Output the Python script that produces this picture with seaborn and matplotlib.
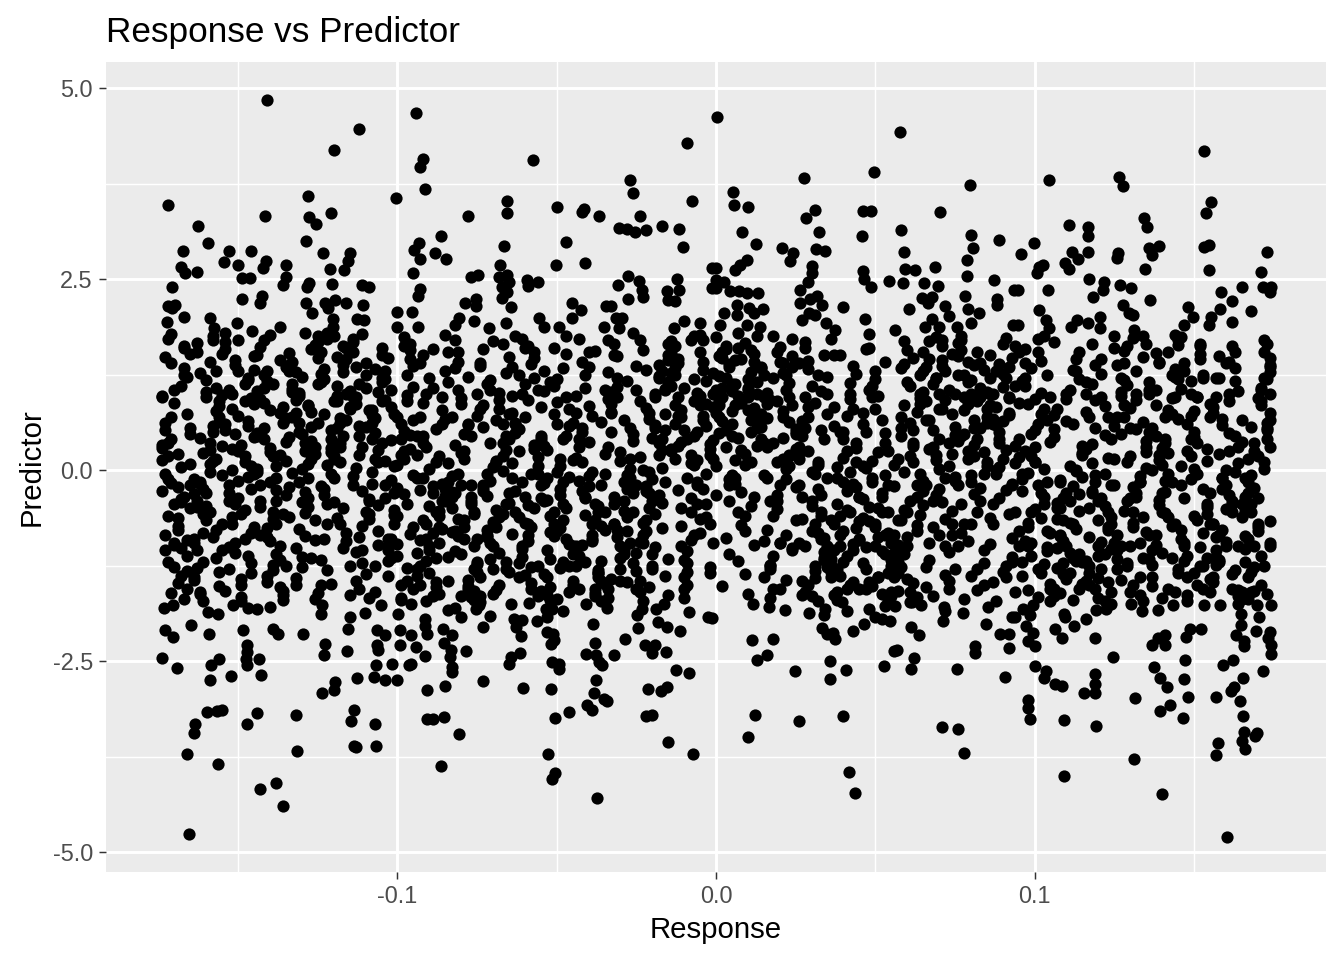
import matplotlib
matplotlib.use("Agg")
import matplotlib.pyplot as plt
import seaborn as sns
import pandas as pd

# ---- data (Response on x, Predictor on y) ----

# sparse upper tail, Predictor above ~1.8
upper_tail = [
    (-0.141, 4.84), (-0.112, 4.46), (-0.120, 4.19), (-0.172, 3.47), (-0.128, 3.59), (-0.1006, 3.56),
    (-0.1415, 3.32), (-0.1277, 3.31), (-0.1255, 3.22), (-0.1208, 3.36), (-0.1626, 3.19), (-0.1286, 3.00),
    (-0.1594, 2.97), (-0.1673, 2.87), (-0.1528, 2.87), (-0.1459, 2.87), (-0.1233, 2.84), (-0.1148, 2.84),
    (-0.1544, 2.72), (-0.150, 2.68), (-0.1412, 2.74), (-0.1421, 2.64), (-0.1349, 2.68), (-0.168, 2.66),
    (-0.1667, 2.58), (-0.1629, 2.59), (-0.1211, 2.63), (-0.1154, 2.74), (-0.1167, 2.62), (-0.1487, 2.51),
    (-0.1462, 2.51), (-0.1349, 2.53), (-0.1358, 2.42), (-0.1277, 2.45), (-0.1283, 2.40), (-0.1204, 2.43),
    (-0.111, 2.42), (-0.1088, 2.40), (-0.1708, 2.40), (-0.172, 2.15), (-0.1698, 2.16), (-0.1708, 2.12),
    (-0.1487, 2.24), (-0.1425, 2.28), (-0.1431, 2.19), (-0.1286, 2.19), (-0.1267, 2.05), (-0.1226, 2.19),
    (-0.1195, 2.22), (-0.1217, 2.12), (-0.116, 2.19), (-0.1107, 2.16), (-0.167, 2.00), (-0.1723, 1.94),
    (-0.1588, 1.99), (-0.1503, 1.92), (-0.1201, 1.98), (-0.1126, 1.98), (-0.1104, 1.96), (-0.1003, 2.07),
    (-0.100, 1.87), (-0.1575, 1.86), (-0.1368, 1.87), (-0.1201, 1.87), (-0.1456, 1.82),
    (-0.0943, 4.67), (-0.0921, 4.07), (-0.0928, 3.97), (-0.0915, 3.68), (-0.0575, 4.06), (-0.0091, 4.28),
    (-0.027, 3.80), (-0.0261, 3.63), (-0.0075, 3.52), (-0.0657, 3.52), (-0.0657, 3.36), (-0.0777, 3.32),
    (-0.050, 3.44), (-0.0415, 3.42), (-0.0421, 3.38), (-0.0368, 3.32), (-0.0239, 3.32), (-0.0305, 3.17),
    (-0.028, 3.15), (-0.0255, 3.12), (-0.022, 3.14), (-0.017, 3.19), (-0.0116, 3.15), (-0.0104, 2.92),
    (-0.0862, 3.06), (-0.0931, 2.97), (-0.0947, 2.88), (-0.0928, 2.76), (-0.0881, 2.84), (-0.0849, 2.76),
    (-0.0667, 2.93), (-0.0472, 2.98), (-0.0503, 2.68), (-0.0412, 2.71), (-0.095, 2.58), (-0.0679, 2.68),
    (-0.077, 2.53), (-0.0748, 2.55), (-0.0682, 2.53), (-0.0657, 2.55), (-0.0651, 2.46), (-0.0673, 2.40),
    (-0.0657, 2.33), (-0.0673, 2.25), (-0.0594, 2.49), (-0.056, 2.46), (-0.0591, 2.41), (-0.0277, 2.54),
    (-0.0308, 2.42), (-0.0242, 2.47), (-0.0233, 2.36), (-0.023, 2.26), (-0.0277, 2.24), (-0.0123, 2.50),
    (-0.0154, 2.34), (-0.0116, 2.36), (-0.0151, 2.22), (-0.0129, 2.21), (-0.0013, 2.64), (-0.0013, 2.38),
    (-0.0928, 2.37), (-0.0934, 2.28), (-0.0953, 2.07), (-0.0789, 2.19), (-0.0752, 2.24), (-0.0752, 2.15),
    (-0.0642, 2.13), (-0.0453, 2.19), (-0.0425, 2.09), (-0.0453, 1.99), (-0.0346, 2.15), (-0.033, 2.15),
    (-0.0557, 1.99), (-0.0808, 1.99), (-0.0761, 1.95), (-0.0818, 1.90), (-0.066, 1.92), (-0.0937, 1.87),
    (-0.0714, 1.86), (-0.0541, 1.87), (-0.0494, 1.87), (-0.0314, 1.99), (-0.0296, 1.99), (-0.0352, 1.87),
    (-0.0305, 1.86), (-0.0101, 1.95), (-0.005, 1.92), (-0.0132, 1.86),
    (0.0003, 4.62), (0.0579, 4.42), (0.0497, 3.90), (0.0277, 3.82), (0.0796, 3.73), (0.0053, 3.64),
    (0.0057, 3.47), (0.0101, 3.44), (0.0311, 3.40), (0.0283, 3.30), (0.0462, 3.39), (0.0487, 3.39),
    (0.0704, 3.38), (0.0082, 3.12), (0.0324, 3.12), (0.0459, 3.06), (0.0582, 3.14), (0.0802, 3.08),
    (0.089, 3.01), (0.0126, 2.96), (0.0208, 2.91), (0.0242, 2.84), (0.0233, 2.74), (0.0314, 2.89),
    (0.0343, 2.87), (0.0591, 2.85), (0.0808, 2.91), (0.0789, 2.75), (0.0, 2.64), (0.0097, 2.75),
    (0.0075, 2.68), (0.006, 2.62), (0.0302, 2.67), (0.0302, 2.58), (0.0289, 2.46), (0.0264, 2.36),
    (0.0462, 2.60), (0.0465, 2.50), (0.0487, 2.40), (0.0594, 2.63), (0.0626, 2.62), (0.0686, 2.66),
    (0.0544, 2.47), (0.0588, 2.45), (0.0654, 2.45), (0.0698, 2.41), (0.0789, 2.54), (0.0874, 2.49),
    (0.0934, 2.36), (0.0, 2.49), (0.0025, 2.46), (0.0, 2.38), (0.0044, 2.34), (0.0072, 2.34),
    (0.0097, 2.32), (0.0132, 2.32), (0.0648, 2.25), (0.0679, 2.26), (0.0664, 2.19), (0.0783, 2.28),
    (0.0881, 2.24), (0.0881, 2.16), (0.0066, 2.16), (0.0025, 2.05), (0.0066, 2.03), (0.0104, 2.12),
    (0.0148, 2.11), (0.012, 2.05), (0.0013, 1.90), (0.0097, 1.90), (0.0138, 1.87), (0.0264, 2.19),
    (0.0296, 2.24), (0.0318, 2.28), (0.0333, 2.16), (0.0292, 2.05), (0.0311, 2.03), (0.027, 1.96),
    (0.0346, 1.92), (0.0399, 2.13), (0.0469, 1.98), (0.0607, 2.11), (0.072, 2.15), (0.0733, 2.02),
    (0.0679, 1.98), (0.0657, 1.87), (0.0701, 1.87), (0.0792, 2.11), (0.0827, 2.05), (0.0799, 1.92),
    (0.0758, 1.87), (0.0931, 1.90), (0.0374, 1.83), (0.0563, 1.83),
    (0.1531, 4.18), (0.1044, 3.80), (0.1264, 3.84), (0.1277, 3.72), (0.1553, 3.51), (0.1538, 3.36),
    (0.1343, 3.30), (0.1352, 3.18), (0.1107, 3.21), (0.1167, 3.18), (0.1167, 3.06), (0.0997, 2.97),
    (0.0959, 2.83), (0.1119, 2.85), (0.1135, 2.76), (0.1167, 2.85), (0.1261, 2.84), (0.1258, 2.77),
    (0.1358, 2.91), (0.139, 2.93), (0.1368, 2.81), (0.1531, 2.92), (0.1547, 2.95), (0.173, 2.85),
    (0.1711, 2.59), (0.1717, 2.40), (0.1742, 2.40), (0.1738, 2.33), (0.1547, 2.62), (0.1346, 2.63),
    (0.1028, 2.68), (0.1013, 2.66), (0.1009, 2.58), (0.1097, 2.71), (0.1107, 2.63), (0.117, 2.50),
    (0.1217, 2.46), (0.1214, 2.36), (0.1182, 2.26), (0.1267, 2.42), (0.1302, 2.38), (0.1362, 2.22),
    (0.1277, 2.16), (0.1296, 2.05), (0.1308, 2.03), (0.0947, 2.36), (0.1041, 2.36), (0.1013, 2.09),
    (0.1035, 1.96), (0.1044, 1.86), (0.1132, 1.96), (0.1113, 1.87), (0.1167, 1.92), (0.1204, 2.00),
    (0.1204, 1.86), (0.0947, 1.90), (0.1481, 2.13), (0.1497, 2.00), (0.1469, 1.90), (0.1553, 2.00),
    (0.1547, 1.90), (0.1585, 2.33), (0.162, 2.21), (0.1582, 2.11), (0.1651, 2.40), (0.1679, 2.08),
    (0.162, 1.94), (0.1311, 1.83),
]

# sparse lower tail, Predictor below ~-1.75
lower_tail = [
    (-0.1733, -1.81), (-0.1704, -1.77), (-0.1594, -1.86), (-0.1563, -1.88), (-0.1516, -1.77), (-0.1469, -1.81),
    (-0.1440, -1.82), (-0.1399, -1.79), (-0.1239, -1.88), (-0.1236, -1.77), (-0.1148, -1.92), (-0.1101, -1.87),
    (-0.1053, -1.77), (-0.0997, -1.88), (-0.173, -2.09), (-0.1704, -2.19), (-0.1648, -2.03), (-0.1591, -2.15),
    (-0.1484, -2.09), (-0.139, -2.08), (-0.1374, -2.15), (-0.1296, -2.15), (-0.1154, -2.08), (-0.1063, -2.09),
    (-0.1038, -2.16), (-0.0991, -2.09), (-0.0991, -2.29), (-0.1226, -2.28), (-0.1230, -2.42), (-0.1157, -2.37),
    (-0.1063, -2.29), (-0.106, -2.36), (-0.1472, -2.29), (-0.1472, -2.38), (-0.1475, -2.47), (-0.1472, -2.55),
    (-0.1739, -2.46), (-0.1692, -2.59), (-0.1585, -2.55), (-0.156, -2.47), (-0.1588, -2.75), (-0.1522, -2.70),
    (-0.1434, -2.47), (-0.1428, -2.68), (-0.1236, -2.92), (-0.1195, -2.77), (-0.1198, -2.88), (-0.1126, -2.72),
    (-0.1075, -2.71), (-0.1038, -2.75), (-0.100, -2.75), (-0.1066, -2.55), (-0.1016, -2.54), (-0.0965, -2.55),
    (-0.1597, -3.17), (-0.1566, -3.15), (-0.155, -3.14), (-0.1635, -3.32), (-0.1638, -3.44), (-0.166, -3.72),
    (-0.1563, -3.85), (-0.1472, -3.32), (-0.144, -3.18), (-0.1318, -3.21), (-0.1314, -3.68), (-0.1135, -3.14),
    (-0.1145, -3.29), (-0.1069, -3.32), (-0.1138, -3.61), (-0.1129, -3.63), (-0.1066, -3.61), (-0.1431, -4.18),
    (-0.1381, -4.10), (-0.1358, -4.40), (-0.1654, -4.76),
    (-0.0956, -1.75), (-0.0956, -2.16), (-0.0943, -2.32), (-0.0956, -2.54), (-0.0915, -2.43), (-0.0912, -1.95),
    (-0.0912, -2.04), (-0.0906, -2.15), (-0.0858, -2.08), (-0.083, -2.16), (-0.0855, -2.26), (-0.0833, -2.36),
    (-0.0836, -2.45), (-0.083, -2.58), (-0.083, -2.64), (-0.0786, -2.37), (-0.084, -1.83), (-0.0818, -1.81),
    (-0.0802, -1.92), (-0.0755, -1.82), (-0.0745, -1.77), (-0.0733, -2.05), (-0.0708, -1.91), (-0.0645, -1.75),
    (-0.0588, -1.74), (-0.0635, -1.95), (-0.061, -1.96), (-0.0629, -2.05), (-0.0613, -2.17), (-0.0563, -1.98),
    (-0.0535, -1.82), (-0.0516, -1.82), (-0.0531, -1.92), (-0.0481, -1.85), (-0.0531, -2.12), (-0.0513, -2.15),
    (-0.0519, -2.28), (-0.0509, -2.23), (-0.0616, -2.40), (-0.0645, -2.45), (-0.0651, -2.54), (-0.0516, -2.51),
    (-0.0494, -2.54), (-0.0494, -2.60), (-0.0733, -2.76), (-0.0852, -2.83), (-0.0906, -2.88), (-0.0607, -2.85),
    (-0.0519, -2.87), (-0.0409, -1.75), (-0.0343, -1.81), (-0.0387, -2.02), (-0.0381, -2.26), (-0.0409, -2.41),
    (-0.0377, -2.42), (-0.0368, -2.51), (-0.0358, -2.55), (-0.0321, -2.42), (-0.0286, -2.21), (-0.0377, -2.75),
    (-0.0384, -2.92), (-0.0352, -3.00), (-0.0343, -3.02), (-0.0406, -3.08), (-0.039, -3.14), (-0.0462, -3.17),
    (-0.0506, -3.25), (-0.0248, -1.90), (-0.0233, -1.82), (-0.0189, -1.82), (-0.0164, -1.75), (-0.0245, -2.07),
    (-0.0182, -1.99), (-0.0154, -2.05), (-0.0113, -2.11), (-0.0085, -1.86), (-0.0025, -1.92), (-0.0223, -2.29),
    (-0.0192, -2.29), (-0.0201, -2.40), (-0.0157, -2.38), (-0.0126, -2.62), (-0.0085, -2.66), (-0.0214, -2.87),
    (-0.0173, -2.89), (-0.0154, -2.84), (-0.022, -3.22), (-0.0201, -3.21), (-0.0151, -3.56), (-0.0072, -3.72),
    (-0.0808, -3.46), (-0.0906, -3.26), (-0.089, -3.26), (-0.0855, -3.23), (-0.0862, -3.87), (-0.0528, -3.72),
    (-0.0506, -3.97), (-0.0516, -4.04), (-0.0374, -4.29),
    (-0.0013, -1.94), (0.0116, -1.75), (0.0167, -1.79), (0.0217, -1.83), (0.0292, -1.87), (0.0343, -1.82),
    (0.034, -1.90), (0.0333, -2.07), (0.0349, -2.15), (0.0374, -2.21), (0.0368, -2.13), (0.0396, -1.73),
    (0.0412, -1.85), (0.0431, -2.11), (0.0465, -2.02), (0.0481, -1.82), (0.05, -1.92), (0.0522, -1.95),
    (0.0547, -1.98), (0.0531, -1.78), (0.0563, -1.78), (0.0613, -2.05), (0.0638, -2.16), (0.0642, -1.77),
    (0.0616, -1.73), (0.056, -2.37), (0.0569, -2.36), (0.0623, -2.46), (0.0613, -2.60), (0.0528, -2.57),
    (0.0717, -1.79), (0.072, -1.85), (0.0714, -1.98), (0.0774, -1.87), (0.0855, -1.79), (0.0849, -2.02),
    (0.0928, -1.92), (0.0893, -2.15), (0.0921, -2.15), (0.0921, -2.33), (0.0814, -2.30), (0.0814, -2.40),
    (0.0758, -2.60), (0.0906, -2.71), (0.0113, -2.23), (0.0179, -2.21), (0.0129, -2.49), (0.016, -2.42),
    (0.0248, -2.63), (0.0358, -2.50), (0.0409, -2.62), (0.0358, -2.74), (0.0123, -3.21), (0.0101, -3.49),
    (0.0261, -3.29), (0.0399, -3.22), (0.0418, -3.95), (0.0437, -4.23), (0.0708, -3.36), (0.0761, -3.39),
    (0.078, -3.70),
    (0.0965, -1.82), (0.0994, -1.77), (0.0987, -1.90), (0.094, -1.92), (0.0972, -2.04), (0.0994, -2.13),
    (0.0978, -2.24), (0.1003, -2.30), (0.1, -2.57), (0.1035, -2.63), (0.1031, -2.72), (0.1063, -2.80),
    (0.1085, -2.83), (0.0981, -3.01), (0.0978, -3.12), (0.0987, -3.26), (0.1094, -3.27), (0.1192, -3.35),
    (0.1091, -4.01), (0.1311, -3.78), (0.1399, -4.24), (0.1604, -4.80), (0.1094, -1.88), (0.1097, -1.92),
    (0.1063, -2.08), (0.1085, -2.20), (0.1123, -2.04), (0.116, -1.95), (0.1192, -1.83), (0.1223, -1.82),
    (0.1239, -1.75), (0.1189, -2.20), (0.1245, -2.45), (0.1189, -2.67), (0.1189, -2.80), (0.1154, -2.92),
    (0.1189, -2.92), (0.1314, -2.98), (0.1302, -1.75), (0.1336, -1.85), (0.1387, -1.83), (0.1434, -1.77),
    (0.1368, -2.29), (0.1387, -2.20), (0.1409, -2.16), (0.1409, -2.29), (0.1374, -2.58), (0.1393, -2.72),
    (0.1415, -2.84), (0.1425, -3.08), (0.1393, -3.15), (0.1465, -3.25), (0.1481, -2.97), (0.1469, -2.74),
    (0.1472, -2.49), (0.1475, -2.19), (0.1487, -2.08), (0.1522, -2.08), (0.1531, -1.77), (0.1582, -1.77),
    (0.1569, -2.97), (0.1591, -2.55), (0.1623, -2.49), (0.1654, -2.72), (0.1616, -2.89), (0.1626, -2.84),
    (0.1645, -3.02), (0.1654, -3.22), (0.1657, -3.43), (0.1651, -3.55), (0.166, -3.65), (0.1692, -3.48),
    (0.1698, -3.44), (0.1575, -3.57), (0.1569, -3.73), (0.1638, -1.75), (0.1648, -1.88), (0.1648, -2.03),
    (0.1632, -2.16), (0.1657, -2.24), (0.1657, -2.30), (0.1698, -1.77), (0.1704, -1.92), (0.1695, -2.11),
    (0.1739, -2.12), (0.1733, -2.20), (0.1742, -2.29), (0.1742, -2.41), (0.1717, -2.63), (0.1742, -1.77),
]

# dense middle band, estimated strip by strip (0.01 wide in Response)
band_x = []
band_y = []

band_x += [-0.172, -0.168, -0.174, -0.166, -0.170, -0.173, -0.167, -0.171, -0.165, -0.169,
           -0.174, -0.170, -0.166, -0.172, -0.168, -0.173, -0.165, -0.171, -0.167, -0.169,
           -0.174, -0.172, -0.166, -0.170, -0.168, -0.173, -0.165, -0.171, -0.167, -0.169,
           -0.174, -0.170, -0.166, -0.172, -0.168, -0.173, -0.165, -0.171, -0.167, -0.169,
           -0.169, -0.173, -0.166, -0.171, -0.165, -0.174, -0.168, -0.172, -0.167, -0.170,
           -0.171, -0.166, -0.174, -0.169, -0.167, -0.172, -0.165, -0.170, -0.173, -0.168]
band_y += [1.71, -0.42, 0.13, -1.12, 0.88, -0.05, 1.34, -1.61, 0.47, -0.73,
           -0.28, 1.05, -0.91, 0.36, -1.38, 0.62, 1.52, -0.17, -1.69, 0.21,
           0.95, -0.60, 1.22, -1.27, 0.04, -0.85, 0.55, 1.78, -0.35, -1.48,
           0.29, -0.98, 0.74, -0.12, 1.10, -1.05, -0.50, 0.41, 1.63, -0.22,
           -0.78, 0.52, -1.55, 1.40, -0.20, 0.97, -1.02, 0.18, 1.60, -0.45,
           0.70, -1.32, 0.33, -0.63, 1.25, -1.20, 0.08, -0.95, 1.48, -0.38]

band_x += [-0.164, -0.160, -0.156, -0.162, -0.158, -0.163, -0.155, -0.161, -0.157, -0.159,
           -0.157, -0.161, -0.155, -0.163, -0.159, -0.164, -0.158, -0.162, -0.156, -0.160,
           -0.160, -0.155, -0.163, -0.158, -0.161, -0.156, -0.164, -0.159, -0.162, -0.157,
           -0.162, -0.158, -0.164, -0.156, -0.160, -0.163, -0.157, -0.161, -0.155, -0.159,
           -0.159, -0.163, -0.156, -0.161, -0.155, -0.164, -0.158, -0.162, -0.157, -0.160,
           -0.161, -0.156, -0.164, -0.159, -0.157, -0.162, -0.155, -0.160, -0.163, -0.158]
band_y += [-0.31, 1.18, -1.52, 0.42, -0.88, 1.66, -0.07, -1.20, 0.77, -0.55,
           0.15, -1.71, 0.98, -0.40, 1.41, -0.95, 0.58, -0.18, -1.33, 1.02,
           -0.66, 0.31, -1.05, 1.76, -0.25, 0.69, -1.44, 0.08, 1.27, -0.79,
           -1.62, 0.50, -0.12, 0.90, -0.47, 1.55, -1.15, 0.22, -0.71, -0.02,
           0.35, -1.28, 0.84, -0.58, 1.52, -0.90, 0.12, -1.60, 1.08, -0.30,
           -0.82, 0.63, -1.40, 0.26, 1.30, -0.15, -1.05, 0.95, -0.48, 1.70]

band_x += [-0.147, -0.151, -0.145, -0.153, -0.149, -0.154, -0.148, -0.152, -0.146, -0.150,
           -0.150, -0.145, -0.153, -0.148, -0.151, -0.146, -0.154, -0.149, -0.152, -0.147,
           -0.152, -0.148, -0.154, -0.146, -0.150, -0.153, -0.147, -0.151, -0.145, -0.149,
           -0.154, -0.150, -0.146, -0.152, -0.148, -0.153, -0.145, -0.151, -0.147, -0.149,
           -0.149, -0.153, -0.146, -0.151, -0.145, -0.154, -0.148, -0.152, -0.147, -0.150,
           -0.151, -0.146, -0.154, -0.149, -0.147, -0.152, -0.145, -0.150, -0.153, -0.148]
band_y += [0.64, -1.08, 1.49, -0.20, 0.33, -1.58, 1.12, -0.61, 0.05, 1.70,
           -0.37, 0.86, -1.29, 0.19, 1.38, -0.83, 0.52, -1.66, 1.00, -0.09,
           0.27, -0.52, 1.58, -1.21, 0.71, -0.30, 1.21, -0.96, 0.43, -1.43,
           1.79, -0.14, 0.94, -0.70, 0.11, -1.01, 1.31, -0.44, 0.58, -1.72,
           -0.58, 1.05, -1.35, 0.47, -0.05, 1.68, -0.90, 0.80, -1.12, 0.25,
           1.44, -0.25, 0.60, -1.50, 1.18, 0.00, -0.75, 1.30, -0.40, 0.90]

band_x += [-0.140, -0.135, -0.143, -0.138, -0.141, -0.136, -0.144, -0.139, -0.142, -0.137,
           -0.142, -0.138, -0.144, -0.136, -0.140, -0.143, -0.137, -0.141, -0.135, -0.139,
           -0.144, -0.140, -0.136, -0.142, -0.138, -0.143, -0.135, -0.141, -0.137, -0.139,
           -0.137, -0.141, -0.135, -0.143, -0.139, -0.144, -0.138, -0.142, -0.136, -0.140,
           -0.139, -0.143, -0.136, -0.141, -0.135, -0.144, -0.138, -0.142, -0.137, -0.140,
           -0.141, -0.136, -0.144, -0.139, -0.137, -0.142, -0.135, -0.140, -0.143, -0.138]
band_y += [-0.93, 0.37, 1.61, -0.26, -1.47, 0.82, 0.01, -0.64, 1.25, -1.18,
           0.55, -0.11, 1.04, -1.70, 0.24, -0.48, 1.44, -0.87, 0.68, -1.31,
           -0.03, 1.77, -0.58, 0.40, -1.10, 0.93, -0.33, 1.16, -1.53, 0.18,
           0.75, -0.76, 1.35, -0.19, -1.24, 0.49, -0.41, 1.08, -1.63, 0.29,
           1.12, -0.40, 0.62, -1.38, 0.12, 1.50, -0.70, 0.88, -1.00, -0.15,
           1.30, -1.58, 0.45, -0.55, 0.20, 1.70, -1.25, 0.78, -0.85, 0.05]

band_x += [-0.132, -0.128, -0.134, -0.126, -0.130, -0.133, -0.127, -0.131, -0.125, -0.129,
           -0.127, -0.131, -0.125, -0.133, -0.129, -0.134, -0.128, -0.132, -0.126, -0.130,
           -0.134, -0.130, -0.126, -0.132, -0.128, -0.133, -0.125, -0.131, -0.127, -0.129,
           -0.130, -0.125, -0.133, -0.128, -0.131, -0.126, -0.134, -0.129, -0.132, -0.127,
           -0.129, -0.133, -0.126, -0.131, -0.125, -0.134, -0.128, -0.132, -0.127, -0.130,
           -0.131, -0.126, -0.134, -0.129, -0.127, -0.132, -0.125, -0.130, -0.133, -0.128]
band_y += [0.92, -0.48, 1.53, 0.21, -1.27, 1.13, 0.57, -0.15, 1.75, -0.86,
           0.38, 1.01, -1.61, 0.70, -0.29, 1.37, 0.08, -1.02, 1.64, 0.47,
           -0.62, 1.22, 0.30, -1.41, 0.84, -0.04, 1.46, -0.77, 0.15, 1.79,
           -1.14, 0.61, 1.06, -0.36, 0.97, -1.69, 0.43, -0.56, 1.28, 0.76,
           0.35, 1.42, -0.92, 0.62, 1.12, -0.22, 0.85, -1.50, 1.58, 0.02,
           0.50, -0.65, 1.30, 0.25, -1.15, 0.75, 1.68, -0.42, 1.02, -0.10]

band_x += [-0.124, -0.120, -0.116, -0.122, -0.118, -0.123, -0.115, -0.121, -0.117, -0.119,
           -0.120, -0.115, -0.123, -0.118, -0.121, -0.116, -0.124, -0.119, -0.122, -0.117,
           -0.117, -0.121, -0.115, -0.123, -0.119, -0.124, -0.118, -0.122, -0.116, -0.120,
           -0.122, -0.118, -0.124, -0.116, -0.120, -0.123, -0.117, -0.121, -0.115, -0.119,
           -0.119, -0.123, -0.116, -0.121, -0.115, -0.124, -0.118, -0.122, -0.117, -0.120,
           -0.121, -0.116, -0.124, -0.119, -0.117, -0.122, -0.115, -0.120, -0.123, -0.118]
band_y += [1.26, 0.18, -0.93, 1.71, 0.62, -0.32, 1.04, -1.49, 0.44, 1.48,
           -0.11, 0.83, 1.19, -0.71, 0.29, 1.60, -1.18, 0.97, 0.06, -0.50,
           1.37, 0.52, -1.64, 0.74, 1.10, -0.21, 0.36, 1.79, -0.83, 0.90,
           -1.31, 0.11, 1.55, 0.66, -0.42, 1.32, -1.02, 0.24, 0.81, -0.63,
           0.90, -0.25, 1.45, 0.40, -1.25, 1.15, 0.68, -0.70, 1.62, 0.15,
           -0.05, 1.00, -1.50, 0.55, 1.28, -0.45, 0.80, 1.75, -0.90, 0.30]

band_x += [-0.107, -0.111, -0.105, -0.113, -0.109, -0.114, -0.108, -0.112, -0.106, -0.110,
           -0.112, -0.108, -0.114, -0.106, -0.110, -0.113, -0.107, -0.111, -0.105, -0.109,
           -0.110, -0.105, -0.113, -0.108, -0.111, -0.106, -0.114, -0.109, -0.112, -0.107,
           -0.114, -0.110, -0.106, -0.112, -0.108, -0.113, -0.105, -0.111, -0.107, -0.109,
           -0.109, -0.113, -0.106, -0.111, -0.105, -0.114, -0.108, -0.112, -0.107, -0.110,
           -0.111, -0.106, -0.114, -0.109, -0.107, -0.112, -0.105, -0.110, -0.113, -0.108]
band_y += [0.48, -1.22, 1.15, 0.03, -0.57, 1.68, 0.79, -1.55, 0.26, 1.40,
           -0.87, 0.61, -0.19, 1.02, -1.36, 0.87, 0.14, -0.73, 1.51, -0.38,
           1.24, 0.35, -1.07, 0.72, 1.78, -0.46, 0.95, -1.68, 0.20, 1.32,
           -0.08, 0.56, -0.98, 1.12, 0.41, -1.45, 1.60, -0.27, 0.68, -0.64,
           -0.40, 1.35, 0.10, -1.05, 0.90, 1.55, -0.18, 0.58, -1.60, 1.08,
           0.30, -0.80, 1.72, 0.78, -1.25, 0.45, 1.20, -0.55, 0.95, -0.02]

band_x += [-0.100, -0.095, -0.103, -0.098, -0.101, -0.096, -0.104, -0.099, -0.102, -0.097,
           -0.104, -0.100, -0.096, -0.102, -0.098, -0.103, -0.095, -0.101, -0.097, -0.099,
           -0.102, -0.098, -0.104, -0.096, -0.100, -0.103, -0.097, -0.101, -0.095, -0.099,
           -0.097, -0.101, -0.095, -0.103, -0.099, -0.104, -0.098, -0.102, -0.096, -0.100,
           -0.099, -0.103, -0.096, -0.101, -0.095, -0.104, -0.098, -0.102, -0.097, -0.100,
           -0.101, -0.096, -0.104, -0.099, -0.097, -0.102, -0.095, -0.100, -0.103, -0.098]
band_y += [-0.24, 1.09, -1.39, 0.51, -0.70, 1.57, 0.12, -1.67, 0.83, -0.45,
           1.30, -0.97, 0.27, -0.13, 1.74, -1.19, 0.66, -0.59, 0.98, -1.51,
           0.39, -0.31, 1.19, -0.84, 0.06, 1.46, -1.28, 0.73, -0.06, -1.70,
           0.90, -0.52, 1.36, -1.04, 0.20, -0.36, 1.63, -0.90, 0.46, -1.13,
           0.60, -0.90, 1.45, -0.30, -1.55, 0.92, 0.25, -1.15, 1.25, -0.60,
           0.05, 1.65, -0.20, 0.40, -1.45, 1.05, -0.75, 0.70, -1.00, 0.15]

band_x += [-0.092, -0.088, -0.094, -0.086, -0.090, -0.093, -0.087, -0.091, -0.085, -0.089,
           -0.094, -0.090, -0.086, -0.092, -0.088, -0.093, -0.085, -0.091, -0.087, -0.089,
           -0.087, -0.091, -0.085, -0.093, -0.089, -0.094, -0.088, -0.092, -0.086, -0.090,
           -0.090, -0.085, -0.093, -0.088, -0.091, -0.086, -0.094, -0.089, -0.092, -0.087,
           -0.089, -0.093, -0.086, -0.091, -0.085, -0.094, -0.088, -0.092, -0.087, -0.090,
           -0.091, -0.086, -0.094, -0.089, -0.087, -0.092, -0.085, -0.090, -0.093, -0.088]
band_y += [-0.66, 0.54, -1.30, -0.18, 1.21, -0.92, -1.62, 0.30, -0.41, 1.58,
           -1.09, 0.02, -0.77, 0.88, -1.46, -0.26, 0.67, -1.71, -0.53, 1.07,
           0.18, -1.19, -0.34, 1.40, -0.82, 0.44, -1.53, -0.10, 0.79, -1.00,
           -0.47, 1.77, -1.26, 0.10, -0.70, 0.96, -1.38, -0.21, 0.35, -0.96,
           -0.30, -1.50, 0.60, -0.90, 1.30, -0.10, -1.15, 0.45, -0.60, -1.35,
           1.00, -0.40, 0.20, -1.65, -0.75, 1.50, -0.25, -1.05, 0.70, -0.55]

band_x += [-0.084, -0.080, -0.076, -0.082, -0.078, -0.083, -0.075, -0.081, -0.077, -0.079,
           -0.077, -0.081, -0.075, -0.083, -0.079, -0.084, -0.078, -0.082, -0.076, -0.080,
           -0.080, -0.075, -0.083, -0.078, -0.081, -0.076, -0.084, -0.079, -0.082, -0.077,
           -0.082, -0.078, -0.084, -0.076, -0.080, -0.083, -0.077, -0.081, -0.075, -0.079,
           -0.079, -0.083, -0.076, -0.081, -0.075, -0.084, -0.078, -0.082, -0.077, -0.080,
           -0.081, -0.076, -0.084, -0.079, -0.077, -0.082, -0.075, -0.080, -0.083, -0.078]
band_y += [-1.14, 0.22, -0.58, 1.33, -1.44, -0.29, 0.71, -0.86, -1.66, 0.47,
           -0.40, 1.05, -1.23, -0.08, -0.74, 1.54, -1.52, 0.33, -0.99, -0.19,
           0.86, -1.34, -0.50, 1.22, -0.64, -1.70, 0.09, -0.90, 1.70, -0.35,
           -1.06, 0.59, -0.15, -1.58, 0.94, -0.81, -0.45, 1.42, -1.20, 0.15,
           -0.65, 0.70, -1.30, -0.05, -0.90, 1.15, -1.55, -0.30, 0.45, -1.10,
           1.55, -0.55, -1.45, 0.25, -0.20, -0.80, 1.00, -1.65, -0.35, 0.60]

band_x += [-0.067, -0.071, -0.065, -0.073, -0.069, -0.074, -0.068, -0.072, -0.066, -0.070,
           -0.070, -0.065, -0.073, -0.068, -0.071, -0.066, -0.074, -0.069, -0.072, -0.067,
           -0.072, -0.068, -0.074, -0.066, -0.070, -0.073, -0.067, -0.071, -0.065, -0.069,
           -0.074, -0.070, -0.066, -0.072, -0.068, -0.073, -0.065, -0.071, -0.067, -0.069,
           -0.069, -0.073, -0.066, -0.071, -0.065, -0.074, -0.068, -0.072, -0.067, -0.070,
           -0.071, -0.066, -0.074, -0.069, -0.067, -0.072, -0.065, -0.070, -0.073, -0.068]
band_y += [0.36, -0.95, 1.48, -0.23, -1.57, 0.80, -0.61, 1.12, -1.29, 0.04,
           1.69, -0.43, 0.57, -1.09, -0.14, 1.27, -1.73, 0.65, -0.79, 0.19,
           -0.34, 1.01, -1.40, 0.45, -0.68, 1.59, -0.01, -1.17, 0.73, -0.52,
           1.36, -1.62, 0.26, -0.88, 0.92, -0.27, -1.33, 1.18, -0.57, 0.12,
           -0.75, 0.85, -1.20, 0.35, -0.30, 1.40, -1.50, -0.05, 0.60, -1.00,
           1.05, -0.45, -1.65, 0.10, 1.65, -0.85, 0.40, -1.30, -0.20, 0.80]

band_x += [-0.060, -0.055, -0.063, -0.058, -0.061, -0.056, -0.064, -0.059, -0.062, -0.057,
           -0.062, -0.058, -0.064, -0.056, -0.060, -0.063, -0.057, -0.061, -0.055, -0.059,
           -0.064, -0.060, -0.056, -0.062, -0.058, -0.063, -0.055, -0.061, -0.057, -0.059,
           -0.057, -0.061, -0.055, -0.063, -0.059, -0.064, -0.058, -0.062, -0.056, -0.060,
           -0.059, -0.063, -0.056, -0.061, -0.055, -0.064, -0.058, -0.062, -0.057, -0.060,
           -0.061, -0.056, -0.064, -0.059, -0.057, -0.062, -0.055, -0.060, -0.063, -0.058]
band_y += [1.13, -0.37, 0.49, -1.48, 1.72, -0.05, -0.84, 0.92, -1.21, 0.28,
           -0.62, 1.39, 0.09, -1.65, 0.70, -0.28, 1.55, -1.03, 0.40, -0.46,
           0.97, -1.37, 0.17, 1.25, -0.74, 0.61, -1.58, -0.16, 1.46, -0.93,
           0.33, -1.14, 0.83, -0.55, 1.62, -0.10, -1.27, 0.54, 1.05, -0.69,
           -0.85, 0.60, -1.25, 1.00, -0.20, 1.35, -1.55, 0.25, -0.50, 1.60,
           -1.00, 0.05, 0.75, -0.70, 1.20, -1.40, 0.45, -0.35, 1.75, -0.05]

band_x += [-0.052, -0.048, -0.054, -0.046, -0.050, -0.053, -0.047, -0.051, -0.045, -0.049,
           -0.047, -0.051, -0.045, -0.053, -0.049, -0.054, -0.048, -0.052, -0.046, -0.050,
           -0.054, -0.050, -0.046, -0.052, -0.048, -0.053, -0.045, -0.051, -0.047, -0.049,
           -0.050, -0.045, -0.053, -0.048, -0.051, -0.046, -0.054, -0.049, -0.052, -0.047,
           -0.049, -0.053, -0.046, -0.051, -0.045, -0.054, -0.048, -0.052, -0.047, -0.050,
           -0.051, -0.046, -0.054, -0.049, -0.047, -0.052, -0.045, -0.050, -0.053, -0.048]
band_y += [-0.81, 0.41, -1.36, -0.09, 1.19, -1.63, -0.50, 0.74, -1.10, 0.05,
           1.52, -0.71, -1.45, 0.26, -0.32, 1.03, -1.20, -0.60, 0.58, -1.69,
           -0.17, 0.89, -0.97, -1.53, 1.34, -0.39, 0.13, -0.86, 1.75, -1.28,
           -0.03, 0.62, -1.05, -0.45, 1.10, -1.59, 0.31, -0.76, -1.16, 0.95,
           -0.25, -1.40, 0.80, -0.55, -1.00, 1.30, -0.15, -1.70, 0.45, -0.80,
           1.60, -1.25, -0.40, 0.15, -0.90, 1.15, -1.50, 0.60, -0.10, -0.65]

band_x += [-0.044, -0.040, -0.036, -0.042, -0.038, -0.043, -0.035, -0.041, -0.037, -0.039,
           -0.040, -0.035, -0.043, -0.038, -0.041, -0.036, -0.044, -0.039, -0.042, -0.037,
           -0.037, -0.041, -0.035, -0.043, -0.039, -0.044, -0.038, -0.042, -0.036, -0.040,
           -0.042, -0.038, -0.044, -0.036, -0.040, -0.043, -0.037, -0.041, -0.035, -0.039,
           -0.039, -0.043, -0.036, -0.041, -0.035, -0.044, -0.038, -0.042, -0.037, -0.040,
           -0.041, -0.036, -0.044, -0.039, -0.037, -0.042, -0.035, -0.040, -0.043, -0.038]
band_y += [-1.26, -0.21, 0.63, -0.98, -1.61, 0.30, -0.55, 1.24, -1.40, -0.03,
           0.84, -0.78, -1.12, 1.56, -0.36, -1.72, 0.16, -0.90, 0.50, -1.31,
           -0.47, 1.08, -1.49, -0.14, 0.71, -1.03, -0.66, 1.41, -1.19, 0.37,
           -0.27, -1.55, 0.97, -0.73, -0.08, 1.71, -1.35, -0.59, 0.21, -0.93,
           -0.70, 0.40, -1.45, -0.35, 1.05, -1.00, -1.65, 0.10, -0.55, 1.35,
           -1.20, -0.20, 0.75, -0.85, -1.35, 0.55, -0.05, 1.55, -1.55, -0.45]

band_x += [-0.027, -0.031, -0.025, -0.033, -0.029, -0.034, -0.028, -0.032, -0.026, -0.030,
           -0.032, -0.028, -0.034, -0.026, -0.030, -0.033, -0.027, -0.031, -0.025, -0.029,
           -0.030, -0.025, -0.033, -0.028, -0.031, -0.026, -0.034, -0.029, -0.032, -0.027,
           -0.034, -0.030, -0.026, -0.032, -0.028, -0.033, -0.025, -0.031, -0.027, -0.029,
           -0.029, -0.033, -0.026, -0.031, -0.025, -0.034, -0.028, -0.032, -0.027, -0.030,
           -0.031, -0.026, -0.034, -0.029, -0.027, -0.032, -0.025, -0.030, -0.033, -0.028]
band_y += [0.55, -0.88, 1.36, -1.42, -0.16, 0.93, -0.62, 1.65, -1.22, 0.12,
           -0.45, 1.17, -1.67, 0.38, -0.99, 0.76, -0.25, 1.49, -1.08, -0.54,
           0.24, -1.32, 1.02, -0.07, -0.79, 1.79, -1.55, 0.66, -0.35, 0.01,
           1.28, -1.15, 0.47, -0.70, -1.47, 0.86, -0.19, 1.09, -0.95, -0.40,
           -1.05, 0.75, -0.30, 1.20, -1.55, 0.30, -0.80, 1.50, -0.10, -1.30,
           0.95, -0.55, 1.70, -1.10, 0.15, -0.70, 1.05, -1.45, 0.50, -0.25]

band_x += [-0.020, -0.015, -0.023, -0.018, -0.021, -0.016, -0.024, -0.019, -0.022, -0.017,
           -0.024, -0.020, -0.016, -0.022, -0.018, -0.023, -0.015, -0.021, -0.017, -0.019,
           -0.022, -0.018, -0.024, -0.016, -0.020, -0.023, -0.017, -0.021, -0.015, -0.019,
           -0.017, -0.021, -0.015, -0.023, -0.019, -0.024, -0.018, -0.022, -0.016, -0.020,
           -0.019, -0.023, -0.016, -0.021, -0.015, -0.024, -0.018, -0.022, -0.017, -0.020,
           -0.021, -0.016, -0.024, -0.019, -0.017, -0.022, -0.015, -0.020, -0.023, -0.018]
band_y += [-0.12, 1.44, -0.69, 0.35, -1.53, 1.06, 0.17, -1.01, 0.81, -0.43,
           1.70, -1.26, 0.52, -0.21, 1.23, -0.85, -1.64, 0.67, 0.03, -0.57,
           1.31, -0.33, 0.90, -1.39, 0.42, 1.57, -0.76, -0.02, -1.17, 0.99,
           0.26, -0.49, 1.15, -1.71, 0.59, -0.94, 1.38, -0.28, 0.74, -1.30,
           0.55, -0.95, 1.05, -0.30, 1.65, -1.45, 0.20, -0.65, 1.30, -1.10,
           0.75, -0.15, -1.60, 0.95, 0.40, -0.80, 1.50, -0.40, 0.00, 1.20]

band_x += [-0.012, -0.008, -0.014, -0.006, -0.010, -0.013, -0.007, -0.011, -0.005, -0.009,
           -0.014, -0.010, -0.006, -0.012, -0.008, -0.013, -0.005, -0.011, -0.007, -0.009,
           -0.007, -0.011, -0.005, -0.013, -0.009, -0.014, -0.008, -0.012, -0.006, -0.010,
           -0.010, -0.005, -0.013, -0.008, -0.011, -0.006, -0.014, -0.009, -0.012, -0.007,
           -0.009, -0.013, -0.006, -0.011, -0.005, -0.014, -0.008, -0.012, -0.007, -0.010,
           -0.011, -0.006, -0.014, -0.009, -0.007, -0.012, -0.005, -0.010, -0.013, -0.008]
band_y += [0.71, -0.36, 1.27, 0.13, -1.18, 1.62, 0.45, -0.73, 0.97, -1.50,
           0.28, 1.08, -0.15, 1.45, -0.91, 0.60, 1.77, -0.50, 0.06, -1.33,
           1.19, 0.37, -0.64, 0.85, -1.06, 1.53, 0.20, -0.26, 1.01, -1.68,
           0.53, -0.82, 1.34, 0.09, 0.79, -0.44, 1.69, -1.21, 0.32, 0.90,
           -0.10, 1.25, 0.50, -1.00, 1.55, 0.25, -0.55, 0.95, 1.75, -1.40,
           0.70, -0.20, 1.10, 0.40, -0.85, 1.40, 0.85, -1.55, 0.15, 1.70]

band_x += [0.005, 0.001, -0.003, 0.003, -0.001, 0.004, -0.004, 0.002, -0.002, 0.000,
           -0.002, 0.002, -0.004, 0.004, 0.000, 0.005, -0.001, 0.003, -0.003, 0.001,
           0.001, -0.004, 0.004, -0.001, 0.002, -0.003, 0.005, 0.000, 0.003, -0.002,
           0.003, -0.001, 0.005, -0.003, 0.001, 0.004, -0.002, 0.002, -0.004, 0.000,
           0.000, 0.004, -0.003, 0.002, -0.004, 0.005, -0.001, 0.003, -0.002, 0.001,
           0.002, -0.003, 0.005, 0.000, -0.002, 0.003, -0.004, 0.001, 0.004, -0.001]
band_y += [1.12, 0.48, -0.61, 1.58, 0.83, -0.12, 1.31, 0.64, -1.27, 0.99,
           0.27, 1.46, 0.71, -0.40, 1.74, 1.04, 0.15, -0.89, 0.58, 1.23,
           0.91, -0.25, 1.39, 0.39, -1.52, 1.16, 0.77, 0.05, 1.63, -0.70,
           0.53, 1.27, -0.07, 0.86, 1.49, -1.10, 0.34, 1.07, 0.66, -0.33,
           0.75, 1.35, -0.05, 0.95, 1.70, 0.45, -0.95, 1.20, 0.20, 0.85,
           1.55, -0.45, 0.60, 1.05, -1.35, 0.30, 1.42, 0.70, -0.20, 1.00]

band_x += [0.008, 0.012, 0.006, 0.014, 0.010, 0.015, 0.009, 0.013, 0.007, 0.011,
           0.011, 0.006, 0.014, 0.009, 0.012, 0.007, 0.015, 0.010, 0.013, 0.008,
           0.013, 0.009, 0.015, 0.007, 0.011, 0.014, 0.008, 0.012, 0.006, 0.010,
           0.015, 0.011, 0.007, 0.013, 0.009, 0.014, 0.006, 0.012, 0.008, 0.010,
           0.010, 0.014, 0.007, 0.012, 0.006, 0.015, 0.009, 0.013, 0.008, 0.011,
           0.012, 0.007, 0.015, 0.010, 0.008, 0.013, 0.006, 0.011, 0.014, 0.009]
band_y += [0.88, 1.41, -0.18, 0.56, 1.19, -0.93, 1.66, 0.31, 0.97, -0.47,
           1.28, 0.13, 0.74, -1.36, 1.52, 0.42, -0.06, 1.07, 0.62, -0.72,
           1.75, 0.21, 0.95, -1.19, 0.50, 1.34, -0.29, 0.81, 1.12, -1.62,
           0.36, 1.57, -0.55, 1.00, 0.07, 0.69, 1.44, -0.98, 0.26, 0.78,
           1.05, 0.40, 1.60, -0.35, 0.85, 1.25, -0.80, 0.55, 1.45, 0.10,
           0.70, 1.80, -1.40, 0.95, 0.25, 1.15, -0.10, 0.65, 1.35, -0.60]

band_x += [0.021, 0.016, 0.024, 0.019, 0.022, 0.017, 0.025, 0.020, 0.023, 0.018,
           0.023, 0.019, 0.025, 0.017, 0.021, 0.024, 0.018, 0.022, 0.016, 0.020,
           0.025, 0.021, 0.017, 0.023, 0.019, 0.024, 0.016, 0.022, 0.018, 0.020,
           0.018, 0.022, 0.016, 0.024, 0.020, 0.025, 0.019, 0.023, 0.017, 0.021,
           0.020, 0.024, 0.017, 0.022, 0.016, 0.025, 0.019, 0.023, 0.018, 0.021,
           0.022, 0.017, 0.025, 0.020, 0.018, 0.023, 0.016, 0.021, 0.024, 0.019]
band_y += [0.42, -0.79, 1.35, 0.10, -1.44, 0.92, -0.22, 1.61, 0.63, -1.12,
           1.14, -0.41, 0.28, -1.68, 0.77, 1.49, -0.60, 0.02, 1.01, -0.96,
           0.54, 1.27, -1.30, 0.19, -0.33, 1.72, 0.86, -0.85, 0.35, -1.55,
           1.20, -0.12, 0.68, -1.02, 1.42, 0.47, -0.51, 0.96, -1.24, 0.15,
           -0.20, 0.85, -1.25, 1.25, 0.30, -0.65, 1.55, 0.05, -1.55, 0.70,
           1.05, -0.40, 0.50, -0.95, 1.75, 0.20, -0.10, 1.40, -1.05, 0.90]

band_x += [0.033, 0.029, 0.035, 0.027, 0.031, 0.034, 0.028, 0.032, 0.026, 0.030,
           0.035, 0.031, 0.027, 0.033, 0.029, 0.034, 0.026, 0.032, 0.028, 0.030,
           0.028, 0.032, 0.026, 0.034, 0.030, 0.035, 0.029, 0.033, 0.027, 0.031,
           0.031, 0.026, 0.034, 0.029, 0.032, 0.027, 0.035, 0.030, 0.033, 0.028,
           0.030, 0.034, 0.027, 0.032, 0.026, 0.035, 0.029, 0.033, 0.028, 0.031,
           0.032, 0.027, 0.035, 0.030, 0.028, 0.033, 0.026, 0.031, 0.034, 0.029]
band_y += [-0.33, 0.82, -1.27, 0.45, -0.70, 1.51, -1.59, 0.07, -0.95, 1.10,
           -0.11, -1.41, 0.64, -0.55, 1.32, -1.07, 0.22, -1.72, 0.96, -0.40,
           1.68, -0.83, 0.30, -1.18, -0.02, 1.22, -1.50, 0.53, -0.64, 0.88,
           -1.32, 0.14, -0.89, 1.43, -0.25, -1.63, 0.73, -0.47, 1.03, -1.00,
           -0.80, 0.40, -1.45, 1.25, -0.20, -1.00, 0.70, -0.60, 1.60, -1.25,
           0.10, -0.35, 1.00, -1.65, 0.55, -0.90, 1.40, -0.05, -1.15, 0.25]

band_x += [0.045, 0.041, 0.037, 0.043, 0.039, 0.044, 0.036, 0.042, 0.038, 0.040,
           0.038, 0.042, 0.036, 0.044, 0.040, 0.045, 0.039, 0.043, 0.037, 0.041,
           0.041, 0.036, 0.044, 0.039, 0.042, 0.037, 0.045, 0.040, 0.043, 0.038,
           0.043, 0.039, 0.045, 0.037, 0.041, 0.044, 0.038, 0.042, 0.036, 0.040,
           0.040, 0.044, 0.037, 0.042, 0.036, 0.045, 0.039, 0.043, 0.038, 0.041,
           0.042, 0.037, 0.045, 0.040, 0.038, 0.043, 0.036, 0.041, 0.044, 0.039]
band_y += [-0.91, -0.27, 0.58, -1.46, -0.60, 1.26, -1.16, -0.03, -1.70, 0.40,
           -0.44, 0.93, -1.33, -0.76, 0.16, -1.55, 1.50, -0.18, -1.05, 0.71,
           -0.52, -1.24, 0.29, -0.85, 1.14, -1.64, -0.35, 0.50, -0.97, -0.10,
           1.36, -1.38, -0.67, 0.83, -1.12, -0.22, 0.04, -1.51, 1.72, -0.80,
           -1.20, 0.10, -0.70, 1.00, -1.40, -0.35, 0.50, -1.05, -1.60, 0.25,
           -0.55, 1.50, -0.90, -0.15, -1.30, 0.80, -0.65, -1.55, 0.35, -1.00]

band_x += [0.048, 0.052, 0.046, 0.054, 0.050, 0.055, 0.049, 0.053, 0.047, 0.051,
           0.051, 0.046, 0.054, 0.049, 0.052, 0.047, 0.055, 0.050, 0.053, 0.048,
           0.053, 0.049, 0.055, 0.047, 0.051, 0.054, 0.048, 0.052, 0.046, 0.050,
           0.055, 0.051, 0.047, 0.053, 0.049, 0.054, 0.046, 0.052, 0.048, 0.050,
           0.050, 0.054, 0.047, 0.052, 0.046, 0.055, 0.049, 0.053, 0.048, 0.051,
           0.052, 0.047, 0.055, 0.050, 0.048, 0.053, 0.046, 0.051, 0.054, 0.049]
band_y += [-0.48, 0.66, -1.22, -0.82, 1.30, -1.59, -0.16, 0.35, -1.01, -1.40,
           0.97, -0.63, -1.71, 0.12, -0.30, 1.58, -1.13, -0.74, 0.49, -1.47,
           -0.06, 1.10, -0.95, -1.30, 0.24, -0.55, 1.78, -1.62, -0.38, 0.80,
           -1.18, -0.87, 0.03, 1.41, -1.52, -0.20, 0.60, -1.06, -0.67, 1.19,
           -1.00, 0.25, -1.55, -0.55, 0.75, -1.25, -0.10, -0.85, 1.05, -1.40,
           -0.35, 0.50, -1.65, -0.70, 1.60, -1.10, 0.05, -0.50, -1.35, 0.95]

band_x += [0.061, 0.056, 0.064, 0.059, 0.062, 0.057, 0.065, 0.060, 0.063, 0.058,
           0.063, 0.059, 0.065, 0.057, 0.061, 0.064, 0.058, 0.062, 0.056, 0.060,
           0.065, 0.061, 0.057, 0.063, 0.059, 0.064, 0.056, 0.062, 0.058, 0.060,
           0.058, 0.062, 0.056, 0.064, 0.060, 0.065, 0.059, 0.063, 0.057, 0.061,
           0.060, 0.064, 0.057, 0.062, 0.056, 0.065, 0.059, 0.063, 0.058, 0.061,
           0.062, 0.057, 0.065, 0.060, 0.058, 0.063, 0.056, 0.061, 0.064, 0.059]
band_y += [0.19, -1.35, 0.87, -0.52, 1.47, -0.98, -0.14, 1.15, -1.66, 0.44,
           -0.72, 1.69, -0.28, -1.20, 0.61, -0.59, 1.33, -1.48, 0.07, -0.88,
           1.02, -0.41, -1.58, 0.76, -0.03, 1.24, -1.08, 0.32, -0.66, 1.57,
           -1.27, 0.53, -0.21, 0.94, -1.42, -0.46, 1.39, -0.80, 0.15, -1.73,
           -0.55, 1.00, -1.35, 0.35, -0.85, 1.55, -1.10, -0.20, 0.70, -1.60,
           0.10, -0.65, 1.30, -1.00, 0.55, -0.35, -1.40, 1.10, -0.05, 0.85]

band_x += [0.073, 0.069, 0.075, 0.067, 0.071, 0.074, 0.068, 0.072, 0.066, 0.070,
           0.075, 0.071, 0.067, 0.073, 0.069, 0.074, 0.066, 0.072, 0.068, 0.070,
           0.068, 0.072, 0.066, 0.074, 0.070, 0.075, 0.069, 0.073, 0.067, 0.071,
           0.071, 0.066, 0.074, 0.069, 0.072, 0.067, 0.075, 0.070, 0.073, 0.068,
           0.070, 0.074, 0.067, 0.072, 0.066, 0.075, 0.069, 0.073, 0.068, 0.071,
           0.072, 0.067, 0.075, 0.070, 0.068, 0.073, 0.066, 0.071, 0.074, 0.069]
band_y += [1.05, -0.32, 0.57, -1.18, 1.63, 0.21, -0.74, 1.29, -1.53, 0.80,
           -0.09, 1.44, -0.95, 0.36, 1.74, -0.53, 0.66, -1.37, 1.12, 0.01,
           -1.65, 0.92, -0.20, 1.52, -0.85, 0.46, 1.20, -1.07, 0.27, -0.42,
           1.36, -1.27, 0.73, 0.13, -0.64, 1.69, -0.14, 0.99, -1.45, 0.52,
           0.40, -0.70, 1.45, -0.10, 0.90, -1.30, 1.20, 0.05, -0.40, 1.70,
           -1.00, 0.65, 1.00, -0.25, 0.30, -1.55, 1.35, 0.80, -0.85, 0.20]

band_x += [0.085, 0.081, 0.077, 0.083, 0.079, 0.084, 0.076, 0.082, 0.078, 0.080,
           0.078, 0.082, 0.076, 0.084, 0.080, 0.085, 0.079, 0.083, 0.077, 0.081,
           0.081, 0.076, 0.084, 0.079, 0.082, 0.077, 0.085, 0.080, 0.083, 0.078,
           0.083, 0.079, 0.085, 0.077, 0.081, 0.084, 0.078, 0.082, 0.076, 0.080,
           0.080, 0.084, 0.077, 0.082, 0.076, 0.085, 0.079, 0.083, 0.078, 0.081,
           0.082, 0.077, 0.085, 0.080, 0.078, 0.083, 0.076, 0.081, 0.084, 0.079]
band_y += [0.61, 1.37, -0.44, 0.95, 0.14, -1.21, 1.66, 0.40, -0.70, 1.18,
           0.78, -1.57, 1.49, 0.23, -0.15, 1.02, -0.93, 0.55, 1.76, -0.31,
           0.33, 1.25, -1.05, 0.86, -0.55, 1.57, 0.05, -1.39, 1.08, 0.47,
           -0.24, 1.41, 0.70, -0.82, 0.19, 1.31, -1.69, 0.90, 0.38, -0.06,
           1.00, -0.05, 0.45, 1.55, -1.00, 0.80, 0.25, -0.40, 1.25, 0.65,
           -1.30, 1.70, 0.10, -0.70, 0.95, 1.40, -0.20, 0.55, -1.50, 1.15]

band_x += [0.088, 0.092, 0.086, 0.094, 0.090, 0.095, 0.089, 0.093, 0.087, 0.091,
           0.091, 0.086, 0.094, 0.089, 0.092, 0.087, 0.095, 0.090, 0.093, 0.088,
           0.093, 0.089, 0.095, 0.087, 0.091, 0.094, 0.088, 0.092, 0.086, 0.090,
           0.095, 0.091, 0.087, 0.093, 0.089, 0.094, 0.086, 0.092, 0.088, 0.090,
           0.090, 0.094, 0.087, 0.092, 0.086, 0.095, 0.089, 0.093, 0.088, 0.091,
           0.092, 0.087, 0.095, 0.090, 0.088, 0.093, 0.086, 0.091, 0.094, 0.089]
band_y += [0.83, -0.58, 1.21, 0.32, -1.33, 1.55, 0.04, -0.89, 0.67, 1.73,
           -0.26, 0.99, -1.60, 0.50, 1.35, -0.71, 0.17, 1.09, -1.14, 0.59,
           1.47, -0.37, 0.88, -1.47, 0.26, 1.62, -0.05, 0.72, -0.97, 1.26,
           0.41, -1.25, 1.00, -0.18, 1.39, 0.09, -0.63, 0.94, -1.71, 0.64,
           0.15, 1.10, -0.45, 0.75, 1.50, -1.00, 0.40, -0.20, 1.30, -1.40,
           0.95, 0.60, -0.80, 1.65, 0.00, -1.20, 0.85, 1.20, -0.55, 0.35]

band_x += [0.101, 0.096, 0.104, 0.099, 0.102, 0.097, 0.105, 0.100, 0.103, 0.098,
           0.103, 0.099, 0.105, 0.097, 0.101, 0.104, 0.098, 0.102, 0.096, 0.100,
           0.105, 0.101, 0.097, 0.103, 0.099, 0.104, 0.096, 0.102, 0.098, 0.100,
           0.098, 0.102, 0.096, 0.104, 0.100, 0.105, 0.099, 0.103, 0.097, 0.101,
           0.100, 0.104, 0.097, 0.102, 0.096, 0.105, 0.099, 0.103, 0.098, 0.101,
           0.102, 0.097, 0.105, 0.100, 0.098, 0.103, 0.096, 0.101, 0.104, 0.099]
band_y += [-0.19, 1.16, -1.06, 0.47, -0.63, 1.58, -1.49, 0.11, -0.35, 0.86,
           -1.23, 1.34, -0.82, 0.25, -1.66, 0.65, -0.04, 1.01, -1.38, -0.51,
           0.37, 1.71, -0.93, 0.02, -1.12, 1.24, -0.28, 0.74, -1.57, 0.53,
           -0.69, 1.43, -0.12, -1.01, 0.93, -1.72, 0.19, -0.44, 1.10, -1.29,
           0.30, -0.80, 1.40, -1.35, -0.05, 0.95, -0.55, 1.75, -1.00, 0.60,
           -0.30, 1.20, -1.55, 0.10, -0.75, 0.80, -1.20, 1.55, -0.15, -0.95]

band_x += [0.113, 0.109, 0.115, 0.107, 0.111, 0.114, 0.108, 0.112, 0.106, 0.110,
           0.115, 0.111, 0.107, 0.113, 0.109, 0.114, 0.106, 0.112, 0.108, 0.110,
           0.108, 0.112, 0.106, 0.114, 0.110, 0.115, 0.109, 0.113, 0.107, 0.111,
           0.111, 0.106, 0.114, 0.109, 0.112, 0.107, 0.115, 0.110, 0.113, 0.108,
           0.110, 0.114, 0.107, 0.112, 0.106, 0.115, 0.109, 0.113, 0.108, 0.111,
           0.112, 0.107, 0.115, 0.110, 0.108, 0.113, 0.106, 0.111, 0.114, 0.109]
band_y += [-0.77, -1.36, 0.31, -0.43, -1.08, 1.19, -1.61, -0.21, 0.72, -0.99,
           -1.49, 0.05, -0.64, 1.45, -1.22, -0.31, 0.54, -1.70, -0.86, 0.93,
           -0.13, -1.15, 1.67, -0.54, -1.42, 0.22, -0.93, -0.01, -1.28, 1.05,
           -0.69, 0.43, -1.56, -0.37, 1.31, -1.02, -0.09, 0.64, -1.19, -0.50,
           -0.30, -1.10, 0.80, -0.70, -1.55, 0.20, -0.95, 1.30, -0.15, -1.35,
           0.60, -0.50, -1.20, 1.00, -0.85, 0.00, -1.65, -0.40, 1.55, -0.65]

band_x += [0.125, 0.121, 0.117, 0.123, 0.119, 0.124, 0.116, 0.122, 0.118, 0.120,
           0.118, 0.122, 0.116, 0.124, 0.120, 0.125, 0.119, 0.123, 0.117, 0.121,
           0.121, 0.116, 0.124, 0.119, 0.122, 0.117, 0.125, 0.120, 0.123, 0.118,
           0.123, 0.119, 0.125, 0.117, 0.121, 0.124, 0.118, 0.122, 0.116, 0.120,
           0.120, 0.124, 0.117, 0.122, 0.116, 0.125, 0.119, 0.123, 0.118, 0.121,
           0.122, 0.117, 0.125, 0.120, 0.118, 0.123, 0.116, 0.121, 0.124, 0.119]
band_y += [0.58, -0.94, -1.51, 0.16, 1.37, -0.62, -1.19, 0.84, -0.28, -1.67,
           1.12, -0.47, 0.27, -1.03, -1.41, 1.60, -0.15, -0.79, 0.69, -1.30,
           -0.36, 1.00, -1.59, -0.07, 0.46, -0.88, 1.76, -1.13, -0.55, 0.34,
           -1.47, 0.92, -0.20, -1.25, 1.26, -0.70, 0.09, -1.71, 0.76, -0.41,
           -0.65, 0.40, -1.35, -0.05, 1.15, -0.95, -1.55, 0.70, -0.30, 1.45,
           -1.10, -0.50, 0.15, -1.00, 1.65, -0.75, -1.45, 0.95, -0.20, 0.55]

band_x += [0.128, 0.132, 0.126, 0.134, 0.130, 0.135, 0.129, 0.133, 0.127, 0.131,
           0.131, 0.126, 0.134, 0.129, 0.132, 0.127, 0.135, 0.130, 0.133, 0.128,
           0.133, 0.129, 0.135, 0.127, 0.131, 0.134, 0.128, 0.132, 0.126, 0.130,
           0.135, 0.131, 0.127, 0.133, 0.129, 0.134, 0.126, 0.132, 0.128, 0.130,
           0.130, 0.134, 0.127, 0.132, 0.126, 0.135, 0.129, 0.133, 0.128, 0.131,
           0.132, 0.127, 0.135, 0.130, 0.128, 0.133, 0.126, 0.131, 0.134, 0.129]
band_y += [-0.54, 0.92, -1.30, 1.48, 0.18, -0.81, 1.11, -1.63, 0.47, -0.22,
           1.73, -1.05, 0.63, -0.41, 1.29, -1.44, 0.03, 0.81, -0.95, 1.56,
           -0.15, -1.22, 0.38, 1.02, -0.69, -1.71, 0.70, -0.30, 1.37, -0.99,
           0.24, -1.51, 0.97, -0.08, 1.63, -0.61, -1.16, 0.54, 1.18, -0.37,
           0.55, -1.15, 1.20, -0.35, -0.85, 1.65, 0.10, -1.40, 0.85, -0.55,
           1.00, -1.00, 0.30, -1.60, 1.40, -0.15, 0.70, -0.75, 1.75, -1.25]

band_x += [0.141, 0.136, 0.144, 0.139, 0.142, 0.137, 0.145, 0.140, 0.143, 0.138,
           0.143, 0.139, 0.145, 0.137, 0.141, 0.144, 0.138, 0.142, 0.136, 0.140,
           0.145, 0.141, 0.137, 0.143, 0.139, 0.144, 0.136, 0.142, 0.138, 0.140,
           0.138, 0.142, 0.136, 0.144, 0.140, 0.145, 0.139, 0.143, 0.137, 0.141,
           0.140, 0.144, 0.137, 0.142, 0.136, 0.145, 0.139, 0.143, 0.138, 0.141,
           0.142, 0.137, 0.145, 0.140, 0.138, 0.143, 0.136, 0.141, 0.144, 0.139]
band_y += [0.36, -1.16, 1.22, -0.39, 0.79, -1.52, 1.64, 0.07, -0.73, 1.05,
           -0.16, 1.41, -1.29, 0.55, -0.56, 1.77, -0.98, 0.22, 1.15, -1.68,
           0.67, -0.29, -1.40, 0.94, 0.13, 1.32, -0.85, -0.05, 1.53, -1.09,
           0.44, -0.62, 1.00, -1.59, 0.29, 1.19, -0.46, 0.74, -1.24, -0.14,
           -0.55, 0.95, -1.05, 1.55, 0.50, -1.35, 0.20, 1.25, -0.85, 0.70,
           -1.55, 0.00, 1.70, -0.30, 0.85, -1.15, 1.05, 0.40, -0.70, 1.40]

band_x += [0.153, 0.149, 0.155, 0.147, 0.151, 0.154, 0.148, 0.152, 0.146, 0.150,
           0.155, 0.151, 0.147, 0.153, 0.149, 0.154, 0.146, 0.152, 0.148, 0.150,
           0.148, 0.152, 0.146, 0.154, 0.150, 0.155, 0.149, 0.153, 0.147, 0.151,
           0.151, 0.146, 0.154, 0.149, 0.152, 0.147, 0.155, 0.150, 0.153, 0.148,
           0.150, 0.154, 0.147, 0.152, 0.146, 0.155, 0.149, 0.153, 0.148, 0.151,
           0.152, 0.147, 0.155, 0.150, 0.148, 0.153, 0.146, 0.151, 0.154, 0.149]
band_y += [-0.25, 0.71, -1.42, 1.30, -0.66, 0.12, -1.13, 1.62, -0.90, 0.43,
           -1.60, 0.96, -0.36, -1.26, 1.17, 0.27, -0.78, 1.45, -1.71, 0.02,
           0.60, -1.01, 1.74, -0.48, -1.35, 0.86, -0.12, 1.25, -0.95, 0.35,
           -1.51, 1.06, -0.58, 0.18, 1.52, -1.19, -0.30, 0.77, -0.82, -1.64,
           0.50, -0.45, 1.40, -1.25, 0.05, -0.70, 1.00, -1.55, 0.25, -0.05,
           1.65, -1.00, 0.70, -0.60, -1.40, 1.20, -0.20, 0.95, -1.15, 0.40]

band_x += [0.165, 0.161, 0.157, 0.163, 0.159, 0.164, 0.156, 0.162, 0.158, 0.160,
           0.158, 0.162, 0.156, 0.164, 0.160, 0.165, 0.159, 0.163, 0.157, 0.161,
           0.161, 0.156, 0.164, 0.159, 0.162, 0.157, 0.165, 0.160, 0.163, 0.158,
           0.163, 0.159, 0.165, 0.157, 0.161, 0.164, 0.158, 0.162, 0.156, 0.160,
           0.160, 0.164, 0.157, 0.162, 0.156, 0.165, 0.159, 0.163, 0.158, 0.161,
           0.162, 0.157, 0.165, 0.160, 0.158, 0.163, 0.156, 0.161, 0.164, 0.159]
band_y += [-0.62, 0.48, -1.24, 1.16, -0.11, -1.57, 0.82, -0.40, 1.49, -0.94,
           0.21, -1.36, -0.70, 1.03, -0.20, -1.69, 0.59, 1.33, -1.05, -0.33,
           0.90, -1.47, 0.09, -0.78, 1.63, -1.14, 0.37, -0.51, -1.31, 1.21,
           -0.02, 0.67, -1.60, -0.87, 1.42, 0.30, -1.18, -0.45, 0.75, -0.99,
           0.00, -1.00, 1.20, -0.55, -1.40, 0.65, -0.25, 1.55, -0.85, 0.25,
           -1.55, 0.95, -0.45, 1.40, -1.20, 0.45, -0.70, 1.00, -1.65, -0.10]

band_x += [0.173, 0.169, 0.174, 0.167, 0.171, 0.174, 0.168, 0.172, 0.166, 0.170,
           0.174, 0.171, 0.167, 0.173, 0.169, 0.174, 0.166, 0.172, 0.168, 0.170,
           0.168, 0.172, 0.166, 0.174, 0.170, 0.173, 0.169, 0.173, 0.167, 0.171,
           0.171, 0.166, 0.174, 0.169, 0.172, 0.167, 0.174, 0.170, 0.173, 0.168,
           0.170, 0.174, 0.167, 0.172, 0.166, 0.174, 0.169, 0.173, 0.168, 0.171,
           0.172, 0.167, 0.174, 0.170, 0.168, 0.173, 0.166, 0.171, 0.174, 0.169]
band_y += [0.40, -0.99, 1.28, -0.30, -1.50, 0.75, -0.06, 1.55, -1.20, 0.18,
           -0.67, 1.07, -1.69, 0.52, -0.23, 1.38, -0.86, 0.01, -1.34, 0.94,
           -0.44, 1.70, -1.03, 0.30, -0.74, 1.19, -1.58, 0.62, -0.15, -1.12,
           0.85, -0.53, 1.46, -1.27, 0.10, -0.90, 1.00, -0.37, -1.62, 0.56,
           -0.80, 0.65, -1.40, 1.20, -0.10, -1.00, 0.35, 1.65, -0.55, 0.90,
           -1.25, 0.15, 1.35, -0.70, -1.60, 0.55, -0.35, 1.05, -0.95, 0.25]

x_ticks = [-0.1, 0.0, 0.1]
x_tick_labels = ["-0.1", "0.0", "0.1"]
x_minor = [-0.15, -0.05, 0.05, 0.15]
y_ticks = [-5.0, -2.5, 0.0, 2.5, 5.0]
y_tick_labels = ["-5.0", "-2.5", "0.0", "2.5", "5.0"]
y_minor = [-3.75, -1.25, 1.25, 3.75]

# ---- assemble ----
n_band = min(len(band_x), len(band_y))
response = [p[0] for p in upper_tail] + band_x[:n_band] + [p[0] for p in lower_tail]
predictor = [p[1] for p in upper_tail] + band_y[:n_band] + [p[1] for p in lower_tail]
df = pd.DataFrame({"Response": response, "Predictor": predictor})

sns.set_style("darkgrid", {"axes.facecolor": "#EBEBEB", "grid.color": "white",
                           "axes.edgecolor": "none"})
plt.rcParams["font.family"] = ["Liberation Sans", "DejaVu Sans"]

fig = plt.figure(figsize=(7, 5), dpi=192)
ax = fig.add_axes([106 / 1344, 88 / 960, 1220 / 1344, 810 / 960])

sns.scatterplot(data=df, x="Response", y="Predictor", color="black", s=21,
                linewidth=0, legend=False, ax=ax)

ax.set_xlim(-0.1915, 0.1915)
ax.set_ylim(-5.26, 5.34)
ax.set_xticks(x_ticks)
ax.set_xticklabels(x_tick_labels)
ax.set_yticks(y_ticks)
ax.set_yticklabels(y_tick_labels)
ax.set_xticks(x_minor, minor=True)
ax.set_yticks(y_minor, minor=True)
ax.grid(which="major", color="white", linewidth=1.1)
ax.grid(which="minor", color="white", linewidth=0.55)
ax.set_axisbelow(True)
for s in ax.spines.values():
    s.set_visible(False)

ax.tick_params(which="major", bottom=True, left=True, length=2.75, width=0.55,
               color="#333333", labelcolor="#4D4D4D", labelsize=8.8, pad=2.2)
ax.tick_params(which="minor", bottom=False, left=False, length=0)

ax.set_xlabel("Response", fontsize=11, color="black", labelpad=2.75)
ax.set_ylabel("Predictor", fontsize=11, color="black", labelpad=2.75)
ax.set_title("Response vs Predictor", loc="left", fontsize=13.2, color="black", pad=7.5)

fig.savefig("out.png", dpi=192)
